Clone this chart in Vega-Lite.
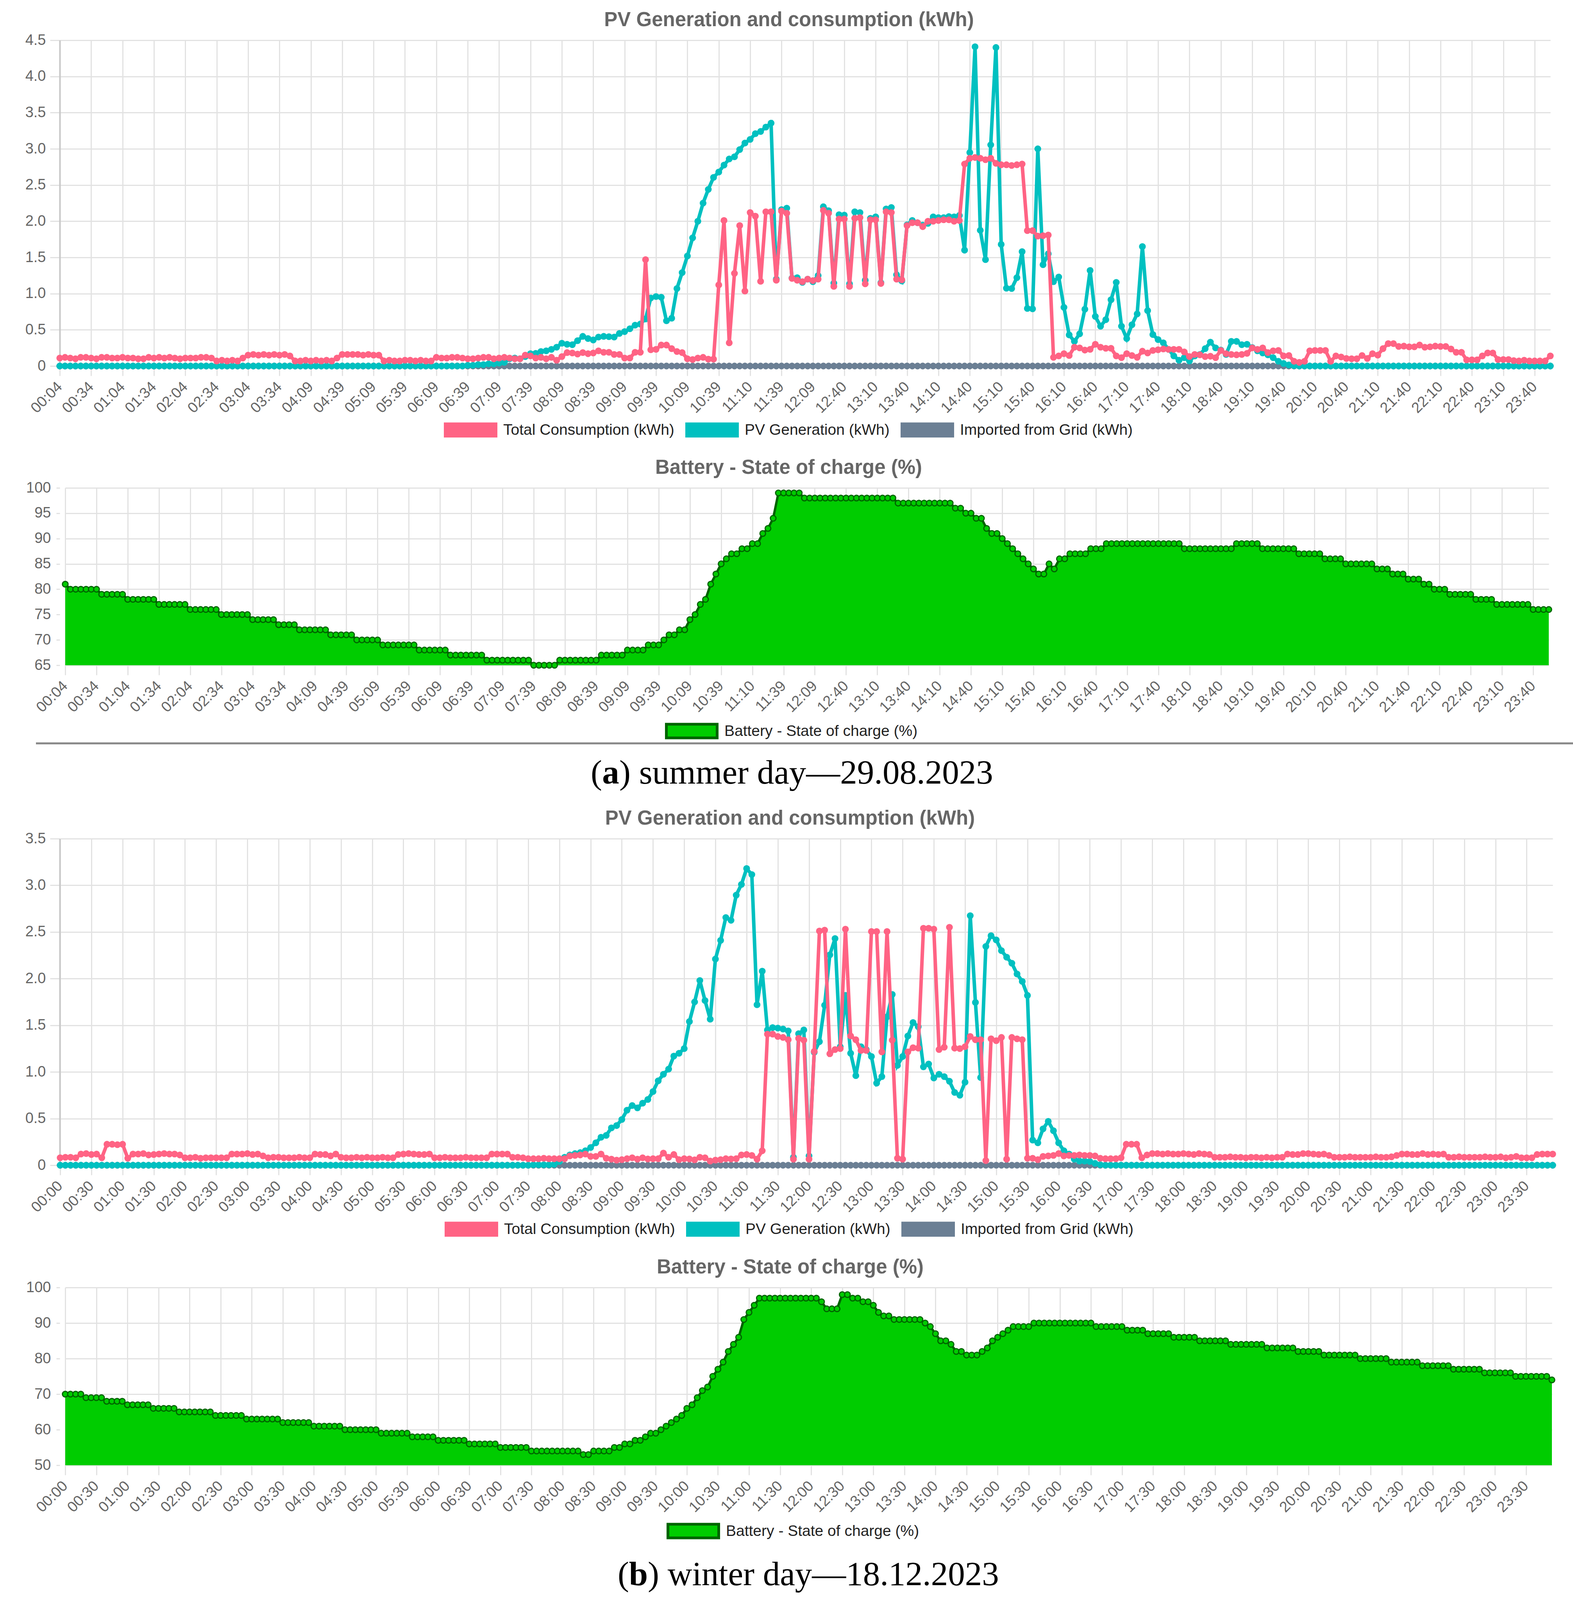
{"$schema":"https://vega.github.io/schema/vega-lite/v6.json","background":"white","padding":{"left":64,"top":26,"right":0,"bottom":0},"bounds":"flush","spacing":0,"resolve":{"scale":{"color":"independent"},"legend":{"color":"independent"}},"config":{"font":"Liberation Sans","view":{"stroke":null},"axis":{"labelFontSize":38,"labelColor":"#666666","gridColor":"#e2e2e2","gridWidth":3,"tickColor":"#e2e2e2","tickWidth":3,"tickSize":25,"title":null,"labelOverlap":false},"axisX":{"labelAngle":-45,"labelAlign":"right","labelBaseline":"middle","labelPadding":22,"domain":false,"labelBound":false},"axisY":{"domain":false,"labelPadding":11},"legend":{"title":null,"orient":"none","direction":"horizontal","labelFontSize":39,"labelColor":"#222222","labelOffset":15,"columnPadding":28,"labelLimit":1000},"title":{"font":"Liberation Sans","fontSize":51,"fontWeight":"bold","color":"#666666","anchor":"middle","offset":6}},
"datasets":{"summer":[
{"t":"00:04","c":0.11,"p":0,"g":0,"b":81},{"t":"00:09","c":0.12,"p":0,"g":0,"b":80},{"t":"00:14","c":0.11,"p":0,"g":0,"b":80},{"t":"00:19","c":0.1,"p":0,"g":0,"b":80},{"t":"00:24","c":0.12,"p":0,"g":0,"b":80},{"t":"00:29","c":0.12,"p":0,"g":0,"b":80},
{"t":"00:34","c":0.11,"p":0,"g":0,"b":80},{"t":"00:39","c":0.1,"p":0,"g":0,"b":79},{"t":"00:44","c":0.12,"p":0,"g":0,"b":79},{"t":"00:49","c":0.12,"p":0,"g":0,"b":79},{"t":"00:54","c":0.11,"p":0,"g":0,"b":79},{"t":"00:59","c":0.11,"p":0,"g":0,"b":79},
{"t":"01:04","c":0.12,"p":0,"g":0,"b":78},{"t":"01:09","c":0.11,"p":0,"g":0,"b":78},{"t":"01:14","c":0.11,"p":0,"g":0,"b":78},{"t":"01:19","c":0.1,"p":0,"g":0,"b":78},{"t":"01:24","c":0.1,"p":0,"g":0,"b":78},{"t":"01:29","c":0.12,"p":0,"g":0,"b":78},
{"t":"01:34","c":0.11,"p":0,"g":0,"b":77},{"t":"01:39","c":0.12,"p":0,"g":0,"b":77},{"t":"01:44","c":0.11,"p":0,"g":0,"b":77},{"t":"01:49","c":0.12,"p":0,"g":0,"b":77},{"t":"01:54","c":0.11,"p":0,"g":0,"b":77},{"t":"01:59","c":0.1,"p":0,"g":0,"b":77},
{"t":"02:04","c":0.11,"p":0,"g":0,"b":76},{"t":"02:09","c":0.11,"p":0,"g":0,"b":76},{"t":"02:14","c":0.11,"p":0,"g":0,"b":76},{"t":"02:19","c":0.12,"p":0,"g":0,"b":76},{"t":"02:24","c":0.12,"p":0,"g":0,"b":76},{"t":"02:29","c":0.11,"p":0,"g":0,"b":76},
{"t":"02:34","c":0.07,"p":0,"g":0,"b":75},{"t":"02:39","c":0.08,"p":0,"g":0,"b":75},{"t":"02:44","c":0.07,"p":0,"g":0,"b":75},{"t":"02:49","c":0.08,"p":0,"g":0,"b":75},{"t":"02:54","c":0.07,"p":0,"g":0,"b":75},{"t":"02:59","c":0.11,"p":0,"g":0,"b":75},
{"t":"03:04","c":0.15,"p":0,"g":0,"b":74},{"t":"03:09","c":0.16,"p":0,"g":0,"b":74},{"t":"03:14","c":0.15,"p":0,"g":0,"b":74},{"t":"03:19","c":0.16,"p":0,"g":0,"b":74},{"t":"03:24","c":0.15,"p":0,"g":0,"b":74},{"t":"03:29","c":0.16,"p":0,"g":0,"b":73},
{"t":"03:34","c":0.15,"p":0,"g":0,"b":73},{"t":"03:39","c":0.16,"p":0,"g":0,"b":73},{"t":"03:44","c":0.14,"p":0,"g":0,"b":73},{"t":"03:49","c":0.07,"p":0,"g":0,"b":72},{"t":"03:54","c":0.07,"p":0,"g":0,"b":72},{"t":"03:59","c":0.08,"p":0,"g":0,"b":72},
{"t":"04:09","c":0.07,"p":0,"g":0,"b":72},{"t":"04:14","c":0.08,"p":0,"g":0,"b":72},{"t":"04:19","c":0.07,"p":0,"g":0,"b":72},{"t":"04:24","c":0.08,"p":0,"g":0,"b":71},{"t":"04:29","c":0.07,"p":0,"g":0,"b":71},{"t":"04:34","c":0.11,"p":0,"g":0,"b":71},
{"t":"04:39","c":0.16,"p":0,"g":0,"b":71},{"t":"04:44","c":0.16,"p":0,"g":0,"b":71},{"t":"04:49","c":0.16,"p":0,"g":0,"b":70},{"t":"04:54","c":0.16,"p":0,"g":0,"b":70},{"t":"04:59","c":0.15,"p":0,"g":0,"b":70},{"t":"05:04","c":0.16,"p":0,"g":0,"b":70},
{"t":"05:09","c":0.15,"p":0,"g":0,"b":70},{"t":"05:14","c":0.15,"p":0,"g":0,"b":69},{"t":"05:19","c":0.07,"p":0,"g":0,"b":69},{"t":"05:24","c":0.08,"p":0,"g":0,"b":69},{"t":"05:29","c":0.07,"p":0,"g":0,"b":69},{"t":"05:34","c":0.07,"p":0,"g":0,"b":69},
{"t":"05:39","c":0.08,"p":0,"g":0,"b":69},{"t":"05:44","c":0.08,"p":0,"g":0,"b":69},{"t":"05:49","c":0.07,"p":0,"g":0,"b":68},{"t":"05:54","c":0.08,"p":0,"g":0,"b":68},{"t":"05:59","c":0.07,"p":0,"g":0,"b":68},{"t":"06:04","c":0.07,"p":0,"g":0,"b":68},
{"t":"06:09","c":0.12,"p":0,"g":0,"b":68},{"t":"06:14","c":0.11,"p":0,"g":0,"b":68},{"t":"06:19","c":0.11,"p":0,"g":0,"b":67},{"t":"06:24","c":0.12,"p":0,"g":0,"b":67},{"t":"06:29","c":0.12,"p":0,"g":0,"b":67},{"t":"06:34","c":0.11,"p":0,"g":0,"b":67},
{"t":"06:39","c":0.1,"p":0.01,"g":0,"b":67},{"t":"06:44","c":0.1,"p":0.01,"g":0,"b":67},{"t":"06:49","c":0.11,"p":0.02,"g":0,"b":67},{"t":"06:54","c":0.12,"p":0.02,"g":0,"b":66},{"t":"06:59","c":0.12,"p":0.03,"g":0,"b":66},{"t":"07:04","c":0.1,"p":0.03,"g":0,"b":66},
{"t":"07:09","c":0.11,"p":0.04,"g":0,"b":66},{"t":"07:14","c":0.12,"p":0.05,"g":0,"b":66},{"t":"07:19","c":0.11,"p":0.1,"g":0,"b":66},{"t":"07:24","c":0.1,"p":0.11,"g":0,"b":66},{"t":"07:29","c":0.1,"p":0.1,"g":0,"b":66},{"t":"07:34","c":0.15,"p":0.13,"g":0,"b":66},
{"t":"07:39","c":0.14,"p":0.17,"g":0,"b":65},{"t":"07:44","c":0.11,"p":0.175,"g":0,"b":65},{"t":"07:49","c":0.12,"p":0.2,"g":0,"b":65},{"t":"07:54","c":0.1,"p":0.21,"g":0,"b":65},{"t":"07:59","c":0.12,"p":0.23,"g":0,"b":65},{"t":"08:04","c":0.08,"p":0.26,"g":0,"b":66},
{"t":"08:09","c":0.13,"p":0.315,"g":0,"b":66},{"t":"08:14","c":0.185,"p":0.3,"g":0,"b":66},{"t":"08:19","c":0.18,"p":0.295,"g":0,"b":66},{"t":"08:24","c":0.165,"p":0.35,"g":0,"b":66},{"t":"08:29","c":0.185,"p":0.41,"g":0,"b":66},{"t":"08:34","c":0.17,"p":0.38,"g":0,"b":66},
{"t":"08:39","c":0.18,"p":0.36,"g":0,"b":66},{"t":"08:44","c":0.21,"p":0.4,"g":0,"b":67},{"t":"08:49","c":0.19,"p":0.41,"g":0,"b":67},{"t":"08:54","c":0.19,"p":0.405,"g":0,"b":67},{"t":"08:59","c":0.16,"p":0.4,"g":0,"b":67},{"t":"09:04","c":0.16,"p":0.45,"g":0,"b":67},
{"t":"09:09","c":0.11,"p":0.475,"g":0,"b":68},{"t":"09:14","c":0.11,"p":0.515,"g":0,"b":68},{"t":"09:19","c":0.19,"p":0.565,"g":0,"b":68},{"t":"09:24","c":0.19,"p":0.58,"g":0,"b":68},{"t":"09:29","c":1.47,"p":0.65,"g":0,"b":69},{"t":"09:34","c":0.225,"p":0.94,"g":0,"b":69},
{"t":"09:39","c":0.23,"p":0.96,"g":0,"b":69},{"t":"09:44","c":0.29,"p":0.95,"g":0,"b":70},{"t":"09:49","c":0.29,"p":0.625,"g":0,"b":71},{"t":"09:54","c":0.24,"p":0.66,"g":0,"b":71},{"t":"09:59","c":0.2,"p":1.07,"g":0,"b":72},{"t":"10:04","c":0.185,"p":1.29,"g":0,"b":72},
{"t":"10:09","c":0.1,"p":1.52,"g":0,"b":74},{"t":"10:14","c":0.09,"p":1.77,"g":0,"b":75},{"t":"10:19","c":0.11,"p":2.0,"g":0,"b":77},{"t":"10:24","c":0.12,"p":2.25,"g":0,"b":78},{"t":"10:29","c":0.095,"p":2.44,"g":0,"b":81},{"t":"10:34","c":0.095,"p":2.605,"g":0,"b":83},
{"t":"10:39","c":1.12,"p":2.68,"g":0,"b":85},{"t":"10:44","c":2.01,"p":2.775,"g":0,"b":86},{"t":"10:49","c":0.32,"p":2.86,"g":0,"b":87},{"t":"10:54","c":1.28,"p":2.89,"g":0,"b":87},{"t":"10:59","c":1.94,"p":2.99,"g":0,"b":88},{"t":"11:04","c":1.035,"p":3.08,"g":0,"b":88},
{"t":"11:10","c":2.12,"p":3.13,"g":0,"b":89},{"t":"11:15","c":2.07,"p":3.21,"g":0,"b":89},{"t":"11:20","c":1.17,"p":3.24,"g":0,"b":91},{"t":"11:25","c":2.13,"p":3.3,"g":0,"b":92},{"t":"11:30","c":2.13,"p":3.355,"g":0,"b":94},{"t":"11:35","c":1.185,"p":1.2,"g":0,"b":99},
{"t":"11:39","c":2.14,"p":2.16,"g":0,"b":99},{"t":"11:44","c":2.11,"p":2.18,"g":0,"b":99},{"t":"11:49","c":1.21,"p":1.215,"g":0,"b":99},{"t":"11:54","c":1.185,"p":1.22,"g":0,"b":99},{"t":"11:59","c":1.165,"p":1.155,"g":0,"b":98},{"t":"12:04","c":1.2,"p":1.2,"g":0,"b":98},
{"t":"12:09","c":1.18,"p":1.165,"g":0,"b":98},{"t":"12:14","c":1.2,"p":1.25,"g":0,"b":98},{"t":"12:19","c":2.15,"p":2.2,"g":0,"b":98},{"t":"12:24","c":2.11,"p":2.145,"g":0,"b":98},{"t":"12:29","c":1.1,"p":1.145,"g":0,"b":98},{"t":"12:34","c":2.03,"p":2.09,"g":0,"b":98},
{"t":"12:40","c":2.03,"p":2.085,"g":0,"b":98},{"t":"12:45","c":1.1,"p":1.135,"g":0,"b":98},{"t":"12:50","c":2.04,"p":2.13,"g":0,"b":98},{"t":"12:55","c":2.05,"p":2.12,"g":0,"b":98},{"t":"13:00","c":1.135,"p":1.185,"g":0,"b":98},{"t":"13:05","c":2.02,"p":2.04,"g":0,"b":98},
{"t":"13:10","c":2.02,"p":2.06,"g":0,"b":98},{"t":"13:15","c":1.14,"p":1.15,"g":0,"b":98},{"t":"13:20","c":2.13,"p":2.17,"g":0,"b":98},{"t":"13:25","c":2.12,"p":2.19,"g":0,"b":98},{"t":"13:30","c":1.2,"p":1.26,"g":0,"b":97},{"t":"13:35","c":1.19,"p":1.175,"g":0,"b":97},
{"t":"13:40","c":1.94,"p":1.95,"g":0,"b":97},{"t":"13:45","c":1.98,"p":2.01,"g":0,"b":97},{"t":"13:50","c":1.98,"p":1.98,"g":0,"b":97},{"t":"13:55","c":1.925,"p":1.945,"g":0,"b":97},{"t":"14:00","c":2.0,"p":1.97,"g":0,"b":97},{"t":"14:05","c":2.0,"p":2.06,"g":0,"b":97},
{"t":"14:10","c":2.01,"p":2.05,"g":0,"b":97},{"t":"14:15","c":2.02,"p":2.05,"g":0,"b":97},{"t":"14:20","c":2.02,"p":2.065,"g":0,"b":97},{"t":"14:25","c":2.0,"p":2.06,"g":0,"b":96},{"t":"14:30","c":2.01,"p":2.08,"g":0,"b":96},{"t":"14:35","c":2.79,"p":1.6,"g":0,"b":95},
{"t":"14:40","c":2.87,"p":2.95,"g":0,"b":95},{"t":"14:45","c":2.88,"p":4.41,"g":0,"b":94},{"t":"14:50","c":2.87,"p":1.875,"g":0,"b":94},{"t":"14:55","c":2.85,"p":1.47,"g":0,"b":92},{"t":"15:00","c":2.87,"p":3.055,"g":0,"b":91},{"t":"15:05","c":2.8,"p":4.4,"g":0,"b":91},
{"t":"15:10","c":2.78,"p":1.68,"g":0,"b":90},{"t":"15:15","c":2.78,"p":1.075,"g":0,"b":89},{"t":"15:20","c":2.77,"p":1.07,"g":0,"b":88},{"t":"15:25","c":2.78,"p":1.22,"g":0,"b":87},{"t":"15:30","c":2.79,"p":1.58,"g":0,"b":86},{"t":"15:35","c":1.87,"p":0.795,"g":0,"b":85},
{"t":"15:40","c":1.87,"p":0.79,"g":0,"b":84},{"t":"15:45","c":1.795,"p":3.0,"g":0,"b":83},{"t":"15:50","c":1.8,"p":1.4,"g":0,"b":83},{"t":"15:55","c":1.81,"p":1.55,"g":0,"b":85},{"t":"16:00","c":0.12,"p":1.165,"g":0,"b":84},{"t":"16:05","c":0.14,"p":1.23,"g":0,"b":86},
{"t":"16:10","c":0.17,"p":0.81,"g":0,"b":86},{"t":"16:15","c":0.145,"p":0.43,"g":0,"b":87},{"t":"16:20","c":0.26,"p":0.34,"g":0,"b":87},{"t":"16:25","c":0.25,"p":0.445,"g":0,"b":87},{"t":"16:30","c":0.22,"p":0.785,"g":0,"b":87},{"t":"16:35","c":0.23,"p":1.32,"g":0,"b":88},
{"t":"16:40","c":0.3,"p":0.685,"g":0,"b":88},{"t":"16:45","c":0.26,"p":0.55,"g":0,"b":88},{"t":"16:50","c":0.245,"p":0.64,"g":0,"b":89},{"t":"16:55","c":0.245,"p":0.915,"g":0,"b":89},{"t":"17:00","c":0.14,"p":1.155,"g":0,"b":89},{"t":"17:05","c":0.115,"p":0.55,"g":0,"b":89},
{"t":"17:10","c":0.17,"p":0.38,"g":0,"b":89},{"t":"17:15","c":0.145,"p":0.57,"g":0,"b":89},{"t":"17:20","c":0.12,"p":0.72,"g":0,"b":89},{"t":"17:25","c":0.205,"p":1.65,"g":0,"b":89},{"t":"17:30","c":0.18,"p":0.765,"g":0,"b":89},{"t":"17:35","c":0.215,"p":0.435,"g":0,"b":89},
{"t":"17:40","c":0.225,"p":0.365,"g":0,"b":89},{"t":"17:45","c":0.235,"p":0.32,"g":0,"b":89},{"t":"17:50","c":0.23,"p":0.23,"g":0,"b":89},{"t":"17:55","c":0.23,"p":0.14,"g":0,"b":89},{"t":"18:00","c":0.23,"p":0.08,"g":0,"b":89},{"t":"18:05","c":0.195,"p":0.115,"g":0,"b":88},
{"t":"18:10","c":0.13,"p":0.07,"g":0,"b":88},{"t":"18:15","c":0.16,"p":0.14,"g":0,"b":88},{"t":"18:20","c":0.155,"p":0.16,"g":0,"b":88},{"t":"18:25","c":0.13,"p":0.24,"g":0,"b":88},{"t":"18:30","c":0.135,"p":0.33,"g":0,"b":88},{"t":"18:35","c":0.115,"p":0.25,"g":0,"b":88},
{"t":"18:40","c":0.215,"p":0.22,"g":0,"b":88},{"t":"18:45","c":0.17,"p":0.16,"g":0,"b":88},{"t":"18:50","c":0.16,"p":0.34,"g":0,"b":88},{"t":"18:55","c":0.155,"p":0.34,"g":0,"b":89},{"t":"19:00","c":0.16,"p":0.295,"g":0,"b":89},{"t":"19:05","c":0.175,"p":0.3,"g":0,"b":89},
{"t":"19:10","c":0.25,"p":0.255,"g":0,"b":89},{"t":"19:15","c":0.23,"p":0.21,"g":0,"b":89},{"t":"19:20","c":0.25,"p":0.18,"g":0,"b":88},{"t":"19:25","c":0.185,"p":0.155,"g":0,"b":88},{"t":"19:30","c":0.21,"p":0.115,"g":0,"b":88},{"t":"19:35","c":0.215,"p":0.065,"g":0,"b":88},
{"t":"19:40","c":0.14,"p":0.035,"g":0,"b":88},{"t":"19:45","c":0.145,"p":0.015,"g":0,"b":88},{"t":"19:50","c":0.065,"p":0.005,"g":0,"b":88},{"t":"19:55","c":0.05,"p":0,"g":0,"b":87},{"t":"20:00","c":0.065,"p":0,"g":0,"b":87},{"t":"20:05","c":0.21,"p":0,"g":0,"b":87},
{"t":"20:10","c":0.215,"p":0,"g":0,"b":87},{"t":"20:15","c":0.215,"p":0,"g":0,"b":87},{"t":"20:20","c":0.215,"p":0,"g":0,"b":86},{"t":"20:25","c":0.065,"p":0,"g":0,"b":86},{"t":"20:30","c":0.14,"p":0,"g":0,"b":86},{"t":"20:35","c":0.125,"p":0,"g":0,"b":86},
{"t":"20:40","c":0.105,"p":0,"g":0,"b":85},{"t":"20:45","c":0.1,"p":0,"g":0,"b":85},{"t":"20:50","c":0.1,"p":0,"g":0,"b":85},{"t":"20:55","c":0.145,"p":0,"g":0,"b":85},{"t":"21:00","c":0.105,"p":0,"g":0,"b":85},{"t":"21:05","c":0.17,"p":0,"g":0,"b":85},
{"t":"21:10","c":0.15,"p":0,"g":0,"b":84},{"t":"21:15","c":0.24,"p":0,"g":0,"b":84},{"t":"21:20","c":0.31,"p":0,"g":0,"b":84},{"t":"21:25","c":0.31,"p":0,"g":0,"b":83},{"t":"21:30","c":0.27,"p":0,"g":0,"b":83},{"t":"21:35","c":0.275,"p":0,"g":0,"b":83},
{"t":"21:40","c":0.265,"p":0,"g":0,"b":82},{"t":"21:45","c":0.265,"p":0,"g":0,"b":82},{"t":"21:50","c":0.29,"p":0,"g":0,"b":82},{"t":"21:55","c":0.26,"p":0,"g":0,"b":81},{"t":"22:00","c":0.265,"p":0,"g":0,"b":81},{"t":"22:05","c":0.275,"p":0,"g":0,"b":80},
{"t":"22:10","c":0.27,"p":0,"g":0,"b":80},{"t":"22:15","c":0.27,"p":0,"g":0,"b":80},{"t":"22:20","c":0.235,"p":0,"g":0,"b":79},{"t":"22:25","c":0.19,"p":0,"g":0,"b":79},{"t":"22:30","c":0.19,"p":0,"g":0,"b":79},{"t":"22:35","c":0.085,"p":0,"g":0,"b":79},
{"t":"22:40","c":0.085,"p":0,"g":0,"b":79},{"t":"22:45","c":0.085,"p":0,"g":0,"b":78},{"t":"22:50","c":0.14,"p":0,"g":0,"b":78},{"t":"22:55","c":0.18,"p":0,"g":0,"b":78},{"t":"23:00","c":0.18,"p":0,"g":0,"b":78},{"t":"23:05","c":0.09,"p":0,"g":0,"b":77},
{"t":"23:10","c":0.09,"p":0,"g":0,"b":77},{"t":"23:15","c":0.09,"p":0,"g":0,"b":77},{"t":"23:20","c":0.075,"p":0,"g":0,"b":77},{"t":"23:25","c":0.07,"p":0,"g":0,"b":77},{"t":"23:30","c":0.08,"p":0,"g":0,"b":77},{"t":"23:35","c":0.07,"p":0,"g":0,"b":77},
{"t":"23:40","c":0.07,"p":0,"g":0,"b":76},{"t":"23:45","c":0.07,"p":0,"g":0,"b":76},{"t":"23:50","c":0.07,"p":0,"g":0,"b":76},{"t":"23:55","c":0.14,"p":0,"g":0,"b":76}],
"winter":[
{"t":"00:00","c":0.08,"p":0,"g":0,"b":70},{"t":"00:05","c":0.085,"p":0,"g":0,"b":70},{"t":"00:10","c":0.085,"p":0,"g":0,"b":70},{"t":"00:15","c":0.08,"p":0,"g":0,"b":70},{"t":"00:20","c":0.12,"p":0,"g":0,"b":69},{"t":"00:25","c":0.125,"p":0,"g":0,"b":69},
{"t":"00:30","c":0.115,"p":0,"g":0,"b":69},{"t":"00:35","c":0.12,"p":0,"g":0,"b":69},{"t":"00:40","c":0.08,"p":0,"g":0,"b":68},{"t":"00:45","c":0.225,"p":0,"g":0,"b":68},{"t":"00:50","c":0.225,"p":0,"g":0,"b":68},{"t":"00:55","c":0.22,"p":0,"g":0,"b":68},
{"t":"01:00","c":0.225,"p":0,"g":0,"b":67},{"t":"01:05","c":0.075,"p":0,"g":0,"b":67},{"t":"01:10","c":0.12,"p":0,"g":0,"b":67},{"t":"01:15","c":0.12,"p":0,"g":0,"b":67},{"t":"01:20","c":0.125,"p":0,"g":0,"b":67},{"t":"01:25","c":0.11,"p":0,"g":0,"b":66},
{"t":"01:30","c":0.115,"p":0,"g":0,"b":66},{"t":"01:35","c":0.12,"p":0,"g":0,"b":66},{"t":"01:40","c":0.125,"p":0,"g":0,"b":66},{"t":"01:45","c":0.12,"p":0,"g":0,"b":66},{"t":"01:50","c":0.12,"p":0,"g":0,"b":65},{"t":"01:55","c":0.11,"p":0,"g":0,"b":65},
{"t":"02:00","c":0.08,"p":0,"g":0,"b":65},{"t":"02:05","c":0.08,"p":0,"g":0,"b":65},{"t":"02:10","c":0.085,"p":0,"g":0,"b":65},{"t":"02:15","c":0.075,"p":0,"g":0,"b":65},{"t":"02:20","c":0.08,"p":0,"g":0,"b":65},{"t":"02:25","c":0.08,"p":0,"g":0,"b":64},
{"t":"02:30","c":0.08,"p":0,"g":0,"b":64},{"t":"02:35","c":0.08,"p":0,"g":0,"b":64},{"t":"02:40","c":0.08,"p":0,"g":0,"b":64},{"t":"02:45","c":0.12,"p":0,"g":0,"b":64},{"t":"02:50","c":0.12,"p":0,"g":0,"b":64},{"t":"02:55","c":0.12,"p":0,"g":0,"b":63},
{"t":"03:00","c":0.125,"p":0,"g":0,"b":63},{"t":"03:05","c":0.115,"p":0,"g":0,"b":63},{"t":"03:10","c":0.12,"p":0,"g":0,"b":63},{"t":"03:15","c":0.1,"p":0,"g":0,"b":63},{"t":"03:20","c":0.08,"p":0,"g":0,"b":63},{"t":"03:25","c":0.085,"p":0,"g":0,"b":63},
{"t":"03:30","c":0.085,"p":0,"g":0,"b":62},{"t":"03:35","c":0.08,"p":0,"g":0,"b":62},{"t":"03:40","c":0.08,"p":0,"g":0,"b":62},{"t":"03:45","c":0.08,"p":0,"g":0,"b":62},{"t":"03:50","c":0.085,"p":0,"g":0,"b":62},{"t":"03:55","c":0.08,"p":0,"g":0,"b":62},
{"t":"04:00","c":0.08,"p":0,"g":0,"b":61},{"t":"04:05","c":0.12,"p":0,"g":0,"b":61},{"t":"04:10","c":0.115,"p":0,"g":0,"b":61},{"t":"04:15","c":0.115,"p":0,"g":0,"b":61},{"t":"04:20","c":0.1,"p":0,"g":0,"b":61},{"t":"04:25","c":0.12,"p":0,"g":0,"b":61},
{"t":"04:30","c":0.085,"p":0,"g":0,"b":60},{"t":"04:35","c":0.08,"p":0,"g":0,"b":60},{"t":"04:40","c":0.08,"p":0,"g":0,"b":60},{"t":"04:45","c":0.085,"p":0,"g":0,"b":60},{"t":"04:50","c":0.08,"p":0,"g":0,"b":60},{"t":"04:55","c":0.085,"p":0,"g":0,"b":60},
{"t":"05:00","c":0.08,"p":0,"g":0,"b":60},{"t":"05:05","c":0.08,"p":0,"g":0,"b":59},{"t":"05:10","c":0.085,"p":0,"g":0,"b":59},{"t":"05:15","c":0.08,"p":0,"g":0,"b":59},{"t":"05:20","c":0.08,"p":0,"g":0,"b":59},{"t":"05:25","c":0.115,"p":0,"g":0,"b":59},
{"t":"05:30","c":0.12,"p":0,"g":0,"b":59},{"t":"05:35","c":0.125,"p":0,"g":0,"b":58},{"t":"05:40","c":0.12,"p":0,"g":0,"b":58},{"t":"05:45","c":0.115,"p":0,"g":0,"b":58},{"t":"05:50","c":0.115,"p":0,"g":0,"b":58},{"t":"05:55","c":0.12,"p":0,"g":0,"b":58},
{"t":"06:00","c":0.08,"p":0,"g":0,"b":57},{"t":"06:05","c":0.08,"p":0,"g":0,"b":57},{"t":"06:10","c":0.085,"p":0,"g":0,"b":57},{"t":"06:15","c":0.08,"p":0,"g":0,"b":57},{"t":"06:20","c":0.08,"p":0,"g":0,"b":57},{"t":"06:25","c":0.08,"p":0,"g":0,"b":57},
{"t":"06:30","c":0.085,"p":0,"g":0,"b":56},{"t":"06:35","c":0.08,"p":0,"g":0,"b":56},{"t":"06:40","c":0.08,"p":0,"g":0,"b":56},{"t":"06:45","c":0.08,"p":0,"g":0,"b":56},{"t":"06:50","c":0.08,"p":0,"g":0,"b":56},{"t":"06:55","c":0.12,"p":0,"g":0,"b":56},
{"t":"07:00","c":0.12,"p":0,"g":0,"b":55},{"t":"07:05","c":0.12,"p":0,"g":0,"b":55},{"t":"07:10","c":0.12,"p":0,"g":0,"b":55},{"t":"07:15","c":0.085,"p":0,"g":0,"b":55},{"t":"07:20","c":0.085,"p":0,"g":0,"b":55},{"t":"07:25","c":0.08,"p":0,"g":0,"b":55},
{"t":"07:30","c":0.07,"p":0,"g":0,"b":54},{"t":"07:35","c":0.07,"p":0.005,"g":0,"b":54},{"t":"07:40","c":0.07,"p":0.005,"g":0,"b":54},{"t":"07:45","c":0.075,"p":0.005,"g":0,"b":54},{"t":"07:50","c":0.07,"p":0.005,"g":0,"b":54},{"t":"07:55","c":0.07,"p":0.01,"g":0,"b":54},
{"t":"08:00","c":0.07,"p":0.04,"g":0,"b":54},{"t":"08:05","c":0.07,"p":0.085,"g":0,"b":54},{"t":"08:10","c":0.1,"p":0.11,"g":0,"b":54},{"t":"08:15","c":0.105,"p":0.125,"g":0,"b":54},{"t":"08:20","c":0.11,"p":0.135,"g":0,"b":53},{"t":"08:25","c":0.12,"p":0.155,"g":0,"b":53},
{"t":"08:30","c":0.095,"p":0.19,"g":0,"b":54},{"t":"08:35","c":0.095,"p":0.24,"g":0,"b":54},{"t":"08:40","c":0.12,"p":0.3,"g":0,"b":54},{"t":"08:45","c":0.075,"p":0.32,"g":0,"b":54},{"t":"08:50","c":0.065,"p":0.4,"g":0,"b":55},{"t":"08:55","c":0.055,"p":0.425,"g":0,"b":55},
{"t":"09:00","c":0.06,"p":0.49,"g":0,"b":56},{"t":"09:05","c":0.07,"p":0.59,"g":0,"b":56},{"t":"09:10","c":0.08,"p":0.64,"g":0,"b":57},{"t":"09:15","c":0.065,"p":0.615,"g":0,"b":57},{"t":"09:20","c":0.08,"p":0.665,"g":0,"b":58},{"t":"09:25","c":0.067,"p":0.705,"g":0,"b":59},
{"t":"09:30","c":0.07,"p":0.79,"g":0,"b":59},{"t":"09:35","c":0.07,"p":0.905,"g":0,"b":60},{"t":"09:40","c":0.13,"p":0.975,"g":0,"b":61},{"t":"09:45","c":0.085,"p":1.03,"g":0,"b":62},{"t":"09:50","c":0.115,"p":1.17,"g":0,"b":63},{"t":"09:55","c":0.06,"p":1.2,"g":0,"b":64},
{"t":"10:00","c":0.07,"p":1.25,"g":0,"b":66},{"t":"10:05","c":0.067,"p":1.54,"g":0,"b":67},{"t":"10:10","c":0.058,"p":1.75,"g":0,"b":69},{"t":"10:15","c":0.085,"p":1.98,"g":0,"b":71},{"t":"10:20","c":0.08,"p":1.765,"g":0,"b":72},{"t":"10:25","c":0.045,"p":1.565,"g":0,"b":75},
{"t":"10:30","c":0.055,"p":2.21,"g":0,"b":77},{"t":"10:35","c":0.06,"p":2.41,"g":0,"b":79},{"t":"10:40","c":0.07,"p":2.655,"g":0,"b":82},{"t":"10:45","c":0.067,"p":2.625,"g":0,"b":84},{"t":"10:50","c":0.07,"p":2.895,"g":0,"b":86},{"t":"10:55","c":0.11,"p":3.01,"g":0,"b":91},
{"t":"11:00","c":0.115,"p":3.18,"g":0,"b":93},{"t":"11:05","c":0.105,"p":3.115,"g":0,"b":95},{"t":"11:10","c":0.065,"p":1.72,"g":0,"b":97},{"t":"11:15","c":0.155,"p":2.08,"g":0,"b":97},{"t":"11:20","c":1.405,"p":1.45,"g":0,"b":97},{"t":"11:25","c":1.405,"p":1.475,"g":0,"b":97},
{"t":"11:30","c":1.38,"p":1.47,"g":0,"b":97},{"t":"11:35","c":1.37,"p":1.46,"g":0,"b":97},{"t":"11:40","c":1.345,"p":1.44,"g":0,"b":97},{"t":"11:45","c":0.065,"p":0.085,"g":0,"b":97},{"t":"11:50","c":1.36,"p":1.41,"g":0,"b":97},{"t":"11:55","c":1.34,"p":1.45,"g":0,"b":97},
{"t":"12:00","c":0.065,"p":0.1,"g":0,"b":97},{"t":"12:05","c":1.22,"p":1.21,"g":0,"b":97},{"t":"12:10","c":2.51,"p":1.325,"g":0,"b":96},{"t":"12:15","c":2.52,"p":1.715,"g":0,"b":94},{"t":"12:20","c":1.195,"p":2.255,"g":0,"b":94},{"t":"12:25","c":1.24,"p":2.43,"g":0,"b":94},
{"t":"12:30","c":1.25,"p":1.27,"g":0,"b":98},{"t":"12:35","c":2.53,"p":1.82,"g":0,"b":98},{"t":"12:40","c":1.385,"p":1.2,"g":0,"b":97},{"t":"12:45","c":1.345,"p":0.96,"g":0,"b":97},{"t":"12:50","c":1.23,"p":1.27,"g":0,"b":96},{"t":"12:55","c":1.23,"p":1.24,"g":0,"b":96},
{"t":"13:00","c":2.505,"p":1.165,"g":0,"b":95},{"t":"13:05","c":2.505,"p":0.88,"g":0,"b":93},{"t":"13:10","c":1.215,"p":0.95,"g":0,"b":92},{"t":"13:15","c":2.505,"p":1.59,"g":0,"b":92},{"t":"13:20","c":1.34,"p":1.83,"g":0,"b":91},{"t":"13:25","c":0.075,"p":1.07,"g":0,"b":91},
{"t":"13:30","c":0.065,"p":1.165,"g":0,"b":91},{"t":"13:35","c":1.215,"p":1.385,"g":0,"b":91},{"t":"13:40","c":1.26,"p":1.53,"g":0,"b":91},{"t":"13:45","c":1.255,"p":1.485,"g":0,"b":91},{"t":"13:50","c":2.54,"p":1.055,"g":0,"b":90},{"t":"13:55","c":2.54,"p":1.085,"g":0,"b":89},
{"t":"14:00","c":2.53,"p":0.935,"g":0,"b":87},{"t":"14:05","c":1.24,"p":0.975,"g":0,"b":85},{"t":"14:10","c":1.265,"p":0.95,"g":0,"b":85},{"t":"14:15","c":2.55,"p":0.9,"g":0,"b":84},{"t":"14:20","c":1.255,"p":0.78,"g":0,"b":82},{"t":"14:25","c":1.25,"p":0.75,"g":0,"b":82},
{"t":"14:30","c":1.27,"p":0.89,"g":0,"b":81},{"t":"14:35","c":1.38,"p":2.675,"g":0,"b":81},{"t":"14:40","c":1.345,"p":1.745,"g":0,"b":81},{"t":"14:45","c":1.345,"p":0.94,"g":0,"b":82},{"t":"14:50","c":0.05,"p":2.345,"g":0,"b":83},{"t":"14:55","c":1.355,"p":2.46,"g":0,"b":85},
{"t":"15:00","c":1.335,"p":2.415,"g":0,"b":86},{"t":"15:05","c":1.37,"p":2.3,"g":0,"b":87},{"t":"15:10","c":0.065,"p":2.23,"g":0,"b":88},{"t":"15:15","c":1.37,"p":2.165,"g":0,"b":89},{"t":"15:20","c":1.355,"p":2.05,"g":0,"b":89},{"t":"15:25","c":1.345,"p":1.97,"g":0,"b":89},
{"t":"15:30","c":0.075,"p":1.82,"g":0,"b":89},{"t":"15:35","c":0.075,"p":0.27,"g":0,"b":90},{"t":"15:40","c":0.06,"p":0.24,"g":0,"b":90},{"t":"15:45","c":0.095,"p":0.39,"g":0,"b":90},{"t":"15:50","c":0.1,"p":0.47,"g":0,"b":90},{"t":"15:55","c":0.105,"p":0.37,"g":0,"b":90},
{"t":"16:00","c":0.125,"p":0.24,"g":0,"b":90},{"t":"16:05","c":0.1,"p":0.155,"g":0,"b":90},{"t":"16:10","c":0.105,"p":0.12,"g":0,"b":90},{"t":"16:15","c":0.105,"p":0.065,"g":0,"b":90},{"t":"16:20","c":0.11,"p":0.045,"g":0,"b":90},{"t":"16:25","c":0.105,"p":0.045,"g":0,"b":90},
{"t":"16:30","c":0.105,"p":0.04,"g":0,"b":90},{"t":"16:35","c":0.1,"p":0.02,"g":0,"b":89},{"t":"16:40","c":0.075,"p":0.006,"g":0,"b":89},{"t":"16:45","c":0.07,"p":0,"g":0,"b":89},{"t":"16:50","c":0.07,"p":0,"g":0,"b":89},{"t":"16:55","c":0.07,"p":0,"g":0,"b":89},
{"t":"17:00","c":0.08,"p":0,"g":0,"b":89},{"t":"17:05","c":0.225,"p":0,"g":0,"b":88},{"t":"17:10","c":0.225,"p":0,"g":0,"b":88},{"t":"17:15","c":0.225,"p":0,"g":0,"b":88},{"t":"17:20","c":0.08,"p":0,"g":0,"b":88},{"t":"17:25","c":0.11,"p":0,"g":0,"b":87},
{"t":"17:30","c":0.125,"p":0,"g":0,"b":87},{"t":"17:35","c":0.125,"p":0,"g":0,"b":87},{"t":"17:40","c":0.12,"p":0,"g":0,"b":87},{"t":"17:45","c":0.125,"p":0,"g":0,"b":87},{"t":"17:50","c":0.12,"p":0,"g":0,"b":86},{"t":"17:55","c":0.12,"p":0,"g":0,"b":86},
{"t":"18:00","c":0.125,"p":0,"g":0,"b":86},{"t":"18:05","c":0.12,"p":0,"g":0,"b":86},{"t":"18:10","c":0.115,"p":0,"g":0,"b":86},{"t":"18:15","c":0.125,"p":0,"g":0,"b":85},{"t":"18:20","c":0.12,"p":0,"g":0,"b":85},{"t":"18:25","c":0.115,"p":0,"g":0,"b":85},
{"t":"18:30","c":0.085,"p":0,"g":0,"b":85},{"t":"18:35","c":0.085,"p":0,"g":0,"b":85},{"t":"18:40","c":0.085,"p":0,"g":0,"b":85},{"t":"18:45","c":0.09,"p":0,"g":0,"b":84},{"t":"18:50","c":0.085,"p":0,"g":0,"b":84},{"t":"18:55","c":0.085,"p":0,"g":0,"b":84},
{"t":"19:00","c":0.08,"p":0,"g":0,"b":84},{"t":"19:05","c":0.085,"p":0,"g":0,"b":84},{"t":"19:10","c":0.085,"p":0,"g":0,"b":84},{"t":"19:15","c":0.08,"p":0,"g":0,"b":84},{"t":"19:20","c":0.085,"p":0,"g":0,"b":83},{"t":"19:25","c":0.08,"p":0,"g":0,"b":83},
{"t":"19:30","c":0.085,"p":0,"g":0,"b":83},{"t":"19:35","c":0.085,"p":0,"g":0,"b":83},{"t":"19:40","c":0.12,"p":0,"g":0,"b":83},{"t":"19:45","c":0.115,"p":0,"g":0,"b":83},{"t":"19:50","c":0.115,"p":0,"g":0,"b":82},{"t":"19:55","c":0.125,"p":0,"g":0,"b":82},
{"t":"20:00","c":0.125,"p":0,"g":0,"b":82},{"t":"20:05","c":0.12,"p":0,"g":0,"b":82},{"t":"20:10","c":0.115,"p":0,"g":0,"b":82},{"t":"20:15","c":0.12,"p":0,"g":0,"b":81},{"t":"20:20","c":0.105,"p":0,"g":0,"b":81},{"t":"20:25","c":0.085,"p":0,"g":0,"b":81},
{"t":"20:30","c":0.085,"p":0,"g":0,"b":81},{"t":"20:35","c":0.085,"p":0,"g":0,"b":81},{"t":"20:40","c":0.09,"p":0,"g":0,"b":81},{"t":"20:45","c":0.085,"p":0,"g":0,"b":81},{"t":"20:50","c":0.085,"p":0,"g":0,"b":80},{"t":"20:55","c":0.085,"p":0,"g":0,"b":80},
{"t":"21:00","c":0.085,"p":0,"g":0,"b":80},{"t":"21:05","c":0.09,"p":0,"g":0,"b":80},{"t":"21:10","c":0.085,"p":0,"g":0,"b":80},{"t":"21:15","c":0.085,"p":0,"g":0,"b":80},{"t":"21:20","c":0.09,"p":0,"g":0,"b":79},{"t":"21:25","c":0.105,"p":0,"g":0,"b":79},
{"t":"21:30","c":0.12,"p":0,"g":0,"b":79},{"t":"21:35","c":0.12,"p":0,"g":0,"b":79},{"t":"21:40","c":0.115,"p":0,"g":0,"b":79},{"t":"21:45","c":0.115,"p":0,"g":0,"b":79},{"t":"21:50","c":0.125,"p":0,"g":0,"b":78},{"t":"21:55","c":0.115,"p":0,"g":0,"b":78},
{"t":"22:00","c":0.12,"p":0,"g":0,"b":78},{"t":"22:05","c":0.115,"p":0,"g":0,"b":78},{"t":"22:10","c":0.12,"p":0,"g":0,"b":78},{"t":"22:15","c":0.085,"p":0,"g":0,"b":78},{"t":"22:20","c":0.085,"p":0,"g":0,"b":77},{"t":"22:25","c":0.09,"p":0,"g":0,"b":77},
{"t":"22:30","c":0.085,"p":0,"g":0,"b":77},{"t":"22:35","c":0.085,"p":0,"g":0,"b":77},{"t":"22:40","c":0.085,"p":0,"g":0,"b":77},{"t":"22:45","c":0.085,"p":0,"g":0,"b":77},{"t":"22:50","c":0.09,"p":0,"g":0,"b":76},{"t":"22:55","c":0.085,"p":0,"g":0,"b":76},
{"t":"23:00","c":0.085,"p":0,"g":0,"b":76},{"t":"23:05","c":0.09,"p":0,"g":0,"b":76},{"t":"23:10","c":0.08,"p":0,"g":0,"b":76},{"t":"23:15","c":0.085,"p":0,"g":0,"b":76},{"t":"23:20","c":0.095,"p":0,"g":0,"b":75},{"t":"23:25","c":0.08,"p":0,"g":0,"b":75},
{"t":"23:30","c":0.08,"p":0,"g":0,"b":75},{"t":"23:35","c":0.08,"p":0,"g":0,"b":75},{"t":"23:40","c":0.115,"p":0,"g":0,"b":75},{"t":"23:45","c":0.12,"p":0,"g":0,"b":75},{"t":"23:50","c":0.12,"p":0,"g":0,"b":75},{"t":"23:55","c":0.12,"p":0,"g":0,"b":74}]},
"vconcat":[
{"title":{"text":"PV Generation and consumption (kWh)","dx":-39},"width":3811,"height":834,"data":{"name":"summer"},
"encoding":{"x":{"field":"t","type":"nominal","sort":null,"scale":{"type":"point","padding":0,"range":[0,3815]},"axis":{"grid":true,"values":["00:04","00:34","01:04","01:34","02:04","02:34","03:04","03:34","04:09","04:39","05:09","05:39","06:09","06:39","07:09","07:39","08:09","08:39","09:09","09:39","10:09","10:39","11:10","11:39","12:09","12:40","13:10","13:40","14:10","14:40","15:10","15:40","16:10","16:40","17:10","17:40","18:10","18:40","19:10","19:40","20:10","20:40","21:10","21:40","22:10","22:40","23:10","23:40"]}}},
"layer":[
{"mark":{"type":"line","strokeWidth":9,"color":"#6b7f94"},"encoding":{"y":{"field":"g","type":"quantitative","scale":{"domain":[0,4.5],"nice":false},"axis":{"grid":true,"domain":true,"domainColor":"#c8c8c8","domainWidth":4,"values":[0,0.5,1,1.5,2,2.5,3,3.5,4,4.5],"labelExpr":"datum.value==0?'0':format(datum.value,'.1f')"}}}},
{"mark":{"type":"point","filled":true,"opacity":1,"size":300},"encoding":{"y":{"field":"g","type":"quantitative","scale":{"domain":[0,4.5],"nice":false}},"color":{"datum":"Imported from Grid (kWh)","type":"nominal","legend":{"legendX":983,"legendY":929,"symbolType":"M-1,-0.28H1V0.28H-1Z","symbolSize":18769,"symbolStrokeWidth":0,"symbolOpacity":1},"scale":{"domain":["Total Consumption (kWh)","PV Generation (kWh)","Imported from Grid (kWh)"],"range":["#ff6384","#00c0c0","#6b7f94"]}}}},
{"mark":{"type":"line","strokeWidth":9,"color":"#00c0c0"},"encoding":{"y":{"field":"p","type":"quantitative","scale":{"domain":[0,4.5],"nice":false}}}},
{"mark":{"type":"point","filled":true,"opacity":1,"size":300},"encoding":{"y":{"field":"p","type":"quantitative","scale":{"domain":[0,4.5],"nice":false}},"color":{"datum":"PV Generation (kWh)","type":"nominal","scale":{"domain":["Total Consumption (kWh)","PV Generation (kWh)","Imported from Grid (kWh)"],"range":["#ff6384","#00c0c0","#6b7f94"]}}}},
{"mark":{"type":"line","strokeWidth":9,"color":"#ff6384"},"encoding":{"y":{"field":"c","type":"quantitative","scale":{"domain":[0,4.5],"nice":false}}}},
{"mark":{"type":"point","filled":true,"opacity":1,"size":300},"encoding":{"y":{"field":"c","type":"quantitative","scale":{"domain":[0,4.5],"nice":false}},"color":{"datum":"Total Consumption (kWh)","type":"nominal","scale":{"domain":["Total Consumption (kWh)","PV Generation (kWh)","Imported from Grid (kWh)"],"range":["#ff6384","#00c0c0","#6b7f94"]}}}}
]},
{"width":1,"height":312,"data":{"values":[{}]},"mark":{"type":"rule","opacity":0},"encoding":{}},
{"title":{"text":"Battery - State of charge (%)","dx":-40},"width":3811,"height":454,"data":{"name":"summer"},
"encoding":{"x":{"field":"t","type":"nominal","sort":null,"scale":{"type":"point","padding":0,"range":[14,3811]},"axis":{"grid":true,"values":["00:04","00:34","01:04","01:34","02:04","02:34","03:04","03:34","04:09","04:39","05:09","05:39","06:09","06:39","07:09","07:39","08:09","08:39","09:09","09:39","10:09","10:39","11:10","11:39","12:09","12:40","13:10","13:40","14:10","14:40","15:10","15:40","16:10","16:40","17:10","17:40","18:10","18:40","19:10","19:40","20:10","20:40","21:10","21:40","22:10","22:40","23:10","23:40"]}}},
"layer":[
{"mark":{"type":"area","color":"#00cc00"},"encoding":{"y":{"field":"b","type":"quantitative","scale":{"domain":[65,100],"nice":false},"axis":{"grid":true,"values":[65,70,75,80,85,90,95,100],"tickSize":9,"labelPadding":14}},"y2":{"datum":65}}},
{"mark":{"type":"line","color":"#006400","strokeWidth":6},"encoding":{"y":{"field":"b","type":"quantitative","scale":{"domain":[65,100],"nice":false}}}},
{"mark":{"type":"point","filled":true,"opacity":1,"size":210,"stroke":"#006400","strokeWidth":3},"encoding":{"y":{"field":"b","type":"quantitative","scale":{"domain":[65,100],"nice":false}},"color":{"datum":"Battery - State of charge (%)","type":"nominal","legend":{"legendX":1549,"legendY":554,"symbolType":"M-1,-0.27H1V0.27H-1Z","symbolSize":16900,"symbolStrokeColor":"#006400","symbolStrokeWidth":7,"symbolOpacity":1},"scale":{"domain":["Battery - State of charge (%)"],"range":["#00cc00"]}}}}
]},
{"width":3811,"height":200,"data":{"values":[{}]},"mark":{"type":"rule","color":"#888888","strokeWidth":5},"encoding":{"x":{"datum":0,"type":"quantitative","axis":null,"scale":{"domain":[0,1],"range":[-61,3873]}},"x2":{"datum":1},"y":{"datum":0,"type":"quantitative","axis":null,"scale":{"domain":[0,1]}}}},
{"width":2820,"height":154,"layer":[
{"data":{"values":[{"part":"("}]},"mark":{"type":"text","font":"Liberation Serif","fontSize":87,"color":"#000000","align":"right","dx":-22},"encoding":{"text":{"field":"part"}}},
{"data":{"values":[{"part":"a"}]},"mark":{"type":"text","font":"Liberation Serif","fontSize":87,"fontWeight":"bold","color":"#000000","align":"center"},"encoding":{"text":{"field":"part"}}},
{"data":{"values":[{"part":") summer day—29.08.2023"}]},"mark":{"type":"text","font":"Liberation Serif","fontSize":87,"color":"#000000","align":"left","dx":22},"encoding":{"text":{"field":"part"}}}
]},
{"width":1,"height":90,"data":{"values":[{}]},"mark":{"type":"rule","opacity":0},"encoding":{}},
{"title":{"text":"PV Generation and consumption (kWh)","dx":-40},"width":3818,"height":836,"data":{"name":"winter"},
"encoding":{"x":{"field":"t","type":"nominal","sort":null,"scale":{"type":"point","padding":0,"range":[1,3821]},"axis":{"grid":true,"values":["00:00","00:30","01:00","01:30","02:00","02:30","03:00","03:30","04:00","04:30","05:00","05:30","06:00","06:30","07:00","07:30","08:00","08:30","09:00","09:30","10:00","10:30","11:00","11:30","12:00","12:30","13:00","13:30","14:00","14:30","15:00","15:30","16:00","16:30","17:00","17:30","18:00","18:30","19:00","19:30","20:00","20:30","21:00","21:30","22:00","22:30","23:00","23:30"]}}},
"layer":[
{"mark":{"type":"line","strokeWidth":9,"color":"#6b7f94"},"encoding":{"y":{"field":"g","type":"quantitative","scale":{"domain":[0,3.5],"nice":false},"axis":{"grid":true,"domain":true,"domainColor":"#c8c8c8","domainWidth":4,"values":[0,0.5,1,1.5,2,2.5,3,3.5],"labelExpr":"datum.value==0?'0':format(datum.value,'.1f')"}}}},
{"mark":{"type":"point","filled":true,"opacity":1,"size":300},"encoding":{"y":{"field":"g","type":"quantitative","scale":{"domain":[0,3.5],"nice":false}},"color":{"datum":"Imported from Grid (kWh)","type":"nominal","legend":{"legendX":985,"legendY":931,"symbolType":"M-1,-0.28H1V0.28H-1Z","symbolSize":18769,"symbolStrokeWidth":0,"symbolOpacity":1},"scale":{"domain":["Total Consumption (kWh)","PV Generation (kWh)","Imported from Grid (kWh)"],"range":["#ff6384","#00c0c0","#6b7f94"]}}}},
{"mark":{"type":"line","strokeWidth":9,"color":"#00c0c0"},"encoding":{"y":{"field":"p","type":"quantitative","scale":{"domain":[0,3.5],"nice":false}}}},
{"mark":{"type":"point","filled":true,"opacity":1,"size":300},"encoding":{"y":{"field":"p","type":"quantitative","scale":{"domain":[0,3.5],"nice":false}},"color":{"datum":"PV Generation (kWh)","type":"nominal","scale":{"domain":["Total Consumption (kWh)","PV Generation (kWh)","Imported from Grid (kWh)"],"range":["#ff6384","#00c0c0","#6b7f94"]}}}},
{"mark":{"type":"line","strokeWidth":9,"color":"#ff6384"},"encoding":{"y":{"field":"c","type":"quantitative","scale":{"domain":[0,3.5],"nice":false}}}},
{"mark":{"type":"point","filled":true,"opacity":1,"size":300},"encoding":{"y":{"field":"c","type":"quantitative","scale":{"domain":[0,3.5],"nice":false}},"color":{"datum":"Total Consumption (kWh)","type":"nominal","scale":{"domain":["Total Consumption (kWh)","PV Generation (kWh)","Imported from Grid (kWh)"],"range":["#ff6384","#00c0c0","#6b7f94"]}}}}
]},
{"width":1,"height":313,"data":{"values":[{}]},"mark":{"type":"rule","opacity":0},"encoding":{}},
{"title":{"text":"Battery - State of charge (%)","dx":-40},"width":3819,"height":455,"data":{"name":"winter"},
"encoding":{"x":{"field":"t","type":"nominal","sort":null,"scale":{"type":"point","padding":0,"range":[14,3819]},"axis":{"grid":true,"values":["00:00","00:30","01:00","01:30","02:00","02:30","03:00","03:30","04:00","04:30","05:00","05:30","06:00","06:30","07:00","07:30","08:00","08:30","09:00","09:30","10:00","10:30","11:00","11:30","12:00","12:30","13:00","13:30","14:00","14:30","15:00","15:30","16:00","16:30","17:00","17:30","18:00","18:30","19:00","19:30","20:00","20:30","21:00","21:30","22:00","22:30","23:00","23:30"]}}},
"layer":[
{"mark":{"type":"area","color":"#00cc00"},"encoding":{"y":{"field":"b","type":"quantitative","scale":{"domain":[50,100],"nice":false},"axis":{"grid":true,"values":[50,60,70,80,90,100],"tickSize":9,"labelPadding":14}},"y2":{"datum":50}}},
{"mark":{"type":"line","color":"#006400","strokeWidth":6},"encoding":{"y":{"field":"b","type":"quantitative","scale":{"domain":[50,100],"nice":false}}}},
{"mark":{"type":"point","filled":true,"opacity":1,"size":210,"stroke":"#006400","strokeWidth":3},"encoding":{"y":{"field":"b","type":"quantitative","scale":{"domain":[50,100],"nice":false}},"color":{"datum":"Battery - State of charge (%)","type":"nominal","legend":{"legendX":1553,"legendY":555,"symbolType":"M-1,-0.27H1V0.27H-1Z","symbolSize":16900,"symbolStrokeColor":"#006400","symbolStrokeWidth":7,"symbolOpacity":1},"scale":{"domain":["Battery - State of charge (%)"],"range":["#00cc00"]}}}}
]},
{"width":1,"height":231,"data":{"values":[{}]},"mark":{"type":"rule","opacity":0},"encoding":{}},
{"width":2962,"height":100,"layer":[
{"data":{"values":[{"part":"("}]},"mark":{"type":"text","font":"Liberation Serif","fontSize":87,"color":"#000000","align":"right","dx":-24},"encoding":{"text":{"field":"part"}}},
{"data":{"values":[{"part":"b"}]},"mark":{"type":"text","font":"Liberation Serif","fontSize":87,"fontWeight":"bold","color":"#000000","align":"center"},"encoding":{"text":{"field":"part"}}},
{"data":{"values":[{"part":") winter day—18.12.2023"}]},"mark":{"type":"text","font":"Liberation Serif","fontSize":87,"color":"#000000","align":"left","dx":24},"encoding":{"text":{"field":"part"}}}
]}
]}
